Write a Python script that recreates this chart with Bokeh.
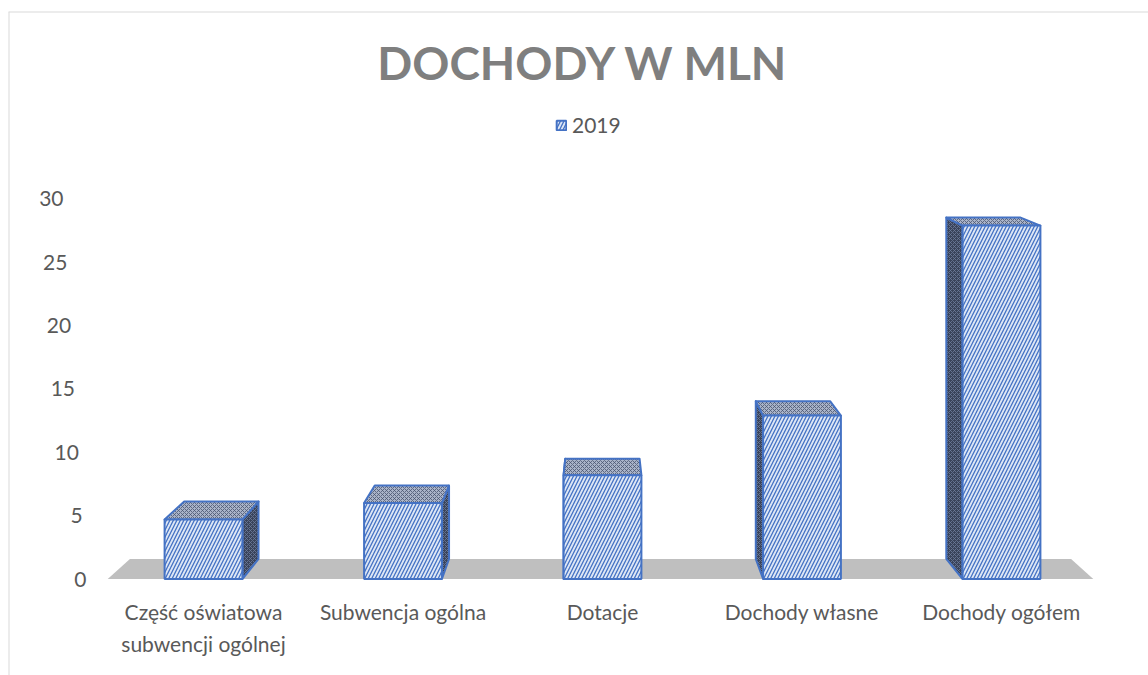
from bokeh.plotting import figure
from bokeh.models import Range1d, Legend, LegendItem, Span
from bokeh.core.properties import value
from bokeh.embed import file_html
from bokeh.resources import INLINE

# ---------------- data ----------------
categories = ["Część oświatowa\nsubwencji ogólnej", "Subwencja ogólna", "Dotacje",
              "Dochody własne", "Dochody ogółem"]
values_2019 = [4.7, 6.0, 8.2, 12.9, 27.9]
y_ticks = [0, 5, 10, 15, 20, 25, 30]
series_name = "2019"
title_text = "DOCHODY W MLN"

# ---------------- layout ----------------
W, H = 1148, 675
BL, BT = 8, 11
PX = 199.5          # px per category
X0_PX = 203         # screen x of first category
PY = 12.667         # px per unit
Y0_PX = 578.5       # screen y of zero

x_start = -(X0_PX - BL) / PX
x_end = x_start + (W - BL) / PX
y_end = (Y0_PX - BT) / PY
y_start = y_end - (H - BT) / PY

# pseudo-perspective (depth of bars)
VX = (600 - X0_PX) / PX
VY = (Y0_PX + 10) / PY
KX, KY = 0.045, 0.034


def bx(x):
    return x + KX * (VX - x)


def by(y):
    return y + KY * (VY - y)


HW = 0.195
FONT = "Lato"
TXT = "#595959"
BLUE = "#4472c4"

p = figure(width=W, height=H, x_range=Range1d(x_start, x_end), y_range=Range1d(y_start, y_end),
           output_backend="svg", toolbar_location=None, x_axis_location=None, y_axis_location=None,
           min_border_left=BL, min_border_top=BT, min_border_right=0, min_border_bottom=0,
           outline_line_color=None, background_fill_color="white", border_fill_color="white",
           title=None)
for g in p.grid:
    g.visible = False

idx = list(range(len(categories)))

# floor
fl = -0.48
fr = len(categories) - 1 + 0.46
p.patch(x=[fl, fr, bx(fr), bx(fl)], y=[0, 0, by(0), by(0)], fill_color="#bfbfbf", line_color=None)

# side faces
side_xs, side_ys = [], []
for x, v in zip(idx, values_2019):
    ex = x + HW if x < VX else x - HW
    side_xs.append([ex, ex, bx(ex), bx(ex)])
    side_ys.append([0, v, by(v), by(0)])
p.patches(xs=side_xs, ys=side_ys, fill_color="#39435a", line_color=BLUE, line_width=2,
          hatch_pattern="x", hatch_color="#6d7c9c", hatch_scale=4, hatch_weight=0.8,
          line_join="round")

# top faces
top_xs, top_ys = [], []
for x, v in zip(idx, values_2019):
    top_xs.append([x - HW, x + HW, bx(x + HW), bx(x - HW)])
    top_ys.append([v, v, by(v), by(v)])
p.patches(xs=top_xs, ys=top_ys, fill_color="#a9b3c8", line_color=BLUE, line_width=2,
          hatch_pattern="x", hatch_color="#4a5671", hatch_scale=4, hatch_weight=0.8,
          line_join="round")

# front faces
front = p.vbar(x=idx, top=values_2019, bottom=0, width=2 * HW, fill_color="#dde6f5",
               line_color=BLUE, line_width=2, hatch_pattern="/", hatch_color=BLUE,
               hatch_scale=7, hatch_weight=1.3)

# y tick labels (staggered along the wall)
lab_x0 = (86 - X0_PX) / PX
lab_x30 = (63 - X0_PX) / PX
p.text(x=[lab_x0 + (lab_x30 - lab_x0) * t / 30 for t in y_ticks], y=y_ticks,
       text=[str(t) for t in y_ticks], text_align="right", text_baseline="middle",
       text_font=value(FONT), text_font_size="21px", text_color=TXT)

# category labels
p.text(x=idx, y=[(Y0_PX - 598) / PY] * len(idx), text=categories, text_align="center",
       text_baseline="top", text_font=value(FONT), text_font_size="21px", text_color=TXT,
       text_line_height=1.3)

# title
p.text(x=[(582.5 - X0_PX) / PX], y=[(Y0_PX - 62) / PY], text=[title_text], text_align="center",
       text_baseline="middle", text_font=value(FONT), text_font_size="46px",
       text_font_style="bold", text_color="#7f7f7f")

# legend
legend = Legend(items=[LegendItem(label=series_name, renderers=[front])], location=(547, 538),
                orientation="horizontal", glyph_width=12, glyph_height=12, label_height=12,
                label_text_font_size="21px", label_text_color=TXT, label_text_font=FONT,
                label_text_baseline="middle", padding=0, margin=0, border_line_color=None,
                background_fill_alpha=0, label_standoff=5)
p.add_layout(legend)

# chart border (left / top)
p.add_layout(Span(location=x_start, dimension="height", line_color="#d9d9d9", line_width=2))
p.add_layout(Span(location=y_end, dimension="width", line_color="#d9d9d9", line_width=2))

open("out.html", "w").write(file_html(p, INLINE))
